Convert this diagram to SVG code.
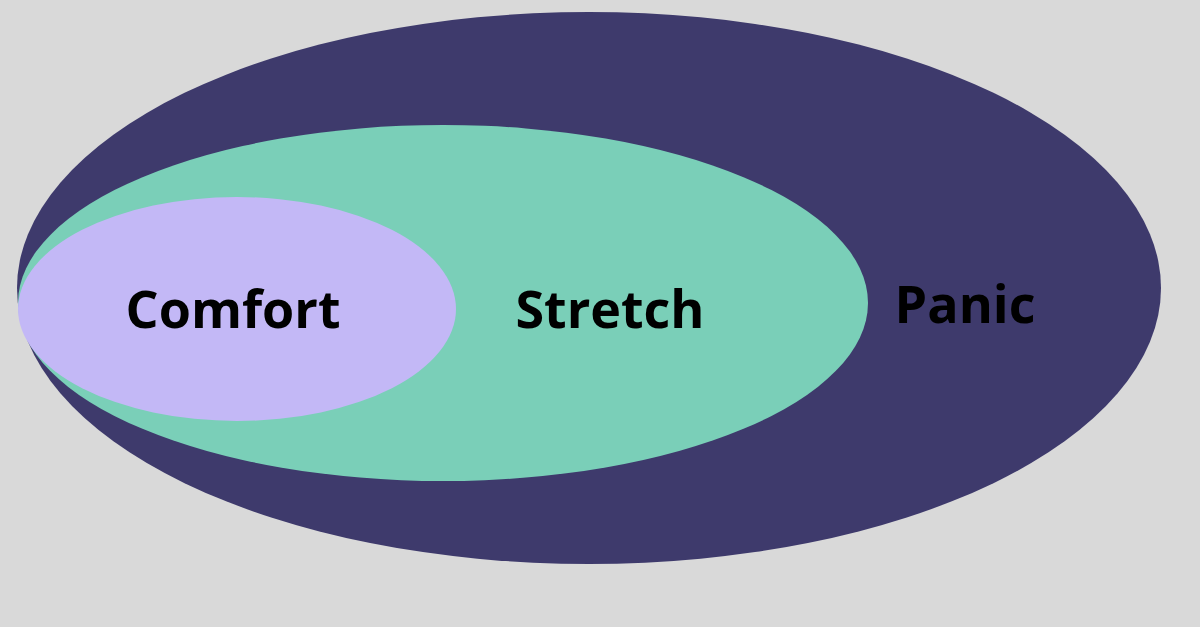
<svg xmlns="http://www.w3.org/2000/svg" width="1200" height="627" viewBox="0 0 1200 627">
<style>
.t{font-family:"Open Sans","Liberation Sans",sans-serif;font-weight:bold;font-size:52px;fill:#000;text-anchor:middle}
</style>
<rect width="1200" height="627" fill="#d9d9d9"/>
<g id="panic"><ellipse cx="589" cy="288" rx="572" ry="276" fill="#3e3a6c"/><text class="t" x="965" y="323">Panic</text></g>
<g id="stretch"><ellipse cx="443" cy="303" rx="425" ry="178" fill="#7acfb8"/><text class="t" x="610" y="328">Stretch</text></g>
<g id="comfort"><ellipse cx="237" cy="309" rx="219" ry="112" fill="#c3b8f6"/><text class="t" x="233" y="328">Comfort</text></g>
<g id="connectors"/>
</svg>
